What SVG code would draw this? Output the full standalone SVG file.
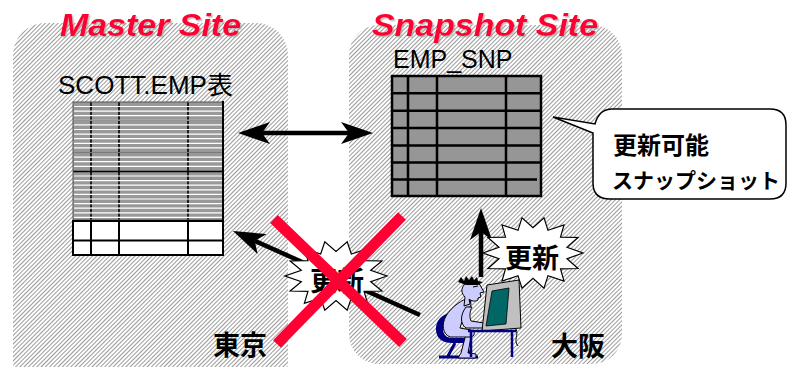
<svg xmlns="http://www.w3.org/2000/svg" width="787" height="367" viewBox="0 0 787 367">
  <style>
    .title { font-family: "Liberation Sans", Arial, sans-serif; font-weight: bold; font-style: italic; font-size: 31px; fill: #FF0033; filter: url(#soft-shadow); }
    .label { font-family: "Liberation Sans", "Noto Sans CJK JP", sans-serif; font-size: 25px; fill: #000; }
    .jp { font-family: "Noto Sans CJK JP", sans-serif; font-weight: bold; fill: #000; }
    .grid { stroke: #000; fill: none; }
    .arrow { stroke: #000; stroke-width: 4.5; fill: none; }
    .cross { stroke: #FF0033; stroke-width: 11; stroke-linecap: butt; }
    .burst { fill: #fff; stroke: #000; stroke-width: 1.2; }
    .navy { fill: #000080; }
    .skin { fill: #CCCCFF; stroke: #000; stroke-width: 1; }
  </style>
  <defs>
    <pattern id="hatch" patternUnits="userSpaceOnUse" width="3" height="3" patternTransform="rotate(45)">
      <rect width="3" height="3" fill="#fff"/>
      <line x1="0.5" y1="0" x2="0.5" y2="3" stroke="#9a9a9a" stroke-width="1"/>
    </pattern>
    <filter id="soft-shadow" x="-5%" y="-20%" width="115%" height="150%">
      <feDropShadow dx="1.5" dy="1.5" stdDeviation="0.6" flood-color="#999" flood-opacity="0.6"/>
    </filter>
    <marker id="head" viewBox="0 -11 32 22" markerWidth="32" markerHeight="22" refX="10" refY="0" orient="auto-start-reverse" markerUnits="userSpaceOnUse">
      <path d="M0,-11 L32,0 L0,11 L8,0 Z" fill="#000"/>
    </marker>
    <polygon id="star" vector-effect="non-scaling-stroke" points="100,0 68,16 90,43 55,44 62,78 30,63 22,98 0,70 -22,98 -30,63 -62,78 -55,44 -90,43 -68,16 -100,0 -68,-16 -90,-43 -55,-44 -62,-78 -30,-63 -22,-98 0,-70 22,-98 30,-63 62,-78 55,-44 90,-43 68,-16"/>
  </defs>

  <rect width="787" height="367" fill="#fff"/>

  <!-- site panels -->
  <g id="master-site">
    <rect x="13" y="23" width="275" height="370" rx="32" fill="url(#hatch)"/>
    <text class="title" x="60" y="35.5" textLength="181" lengthAdjust="spacingAndGlyphs">Master Site</text>
  </g>
  <g id="snapshot-site">
    <rect x="349" y="25" width="273" height="339" rx="30" fill="url(#hatch)"/>
    <text class="title" x="372" y="35.5" textLength="226" lengthAdjust="spacingAndGlyphs">Snapshot Site</text>
  </g>

  <!-- master table SCOTT.EMP -->
  <g id="master-table">
    <text class="label" x="58" y="94" textLength="175" lengthAdjust="spacingAndGlyphs">SCOTT.EMP表</text>
    <rect x="73" y="102" width="150" height="118" fill="#999"/>
    <path class="grid" stroke-width="1.6" d="M91,102 V220 M119,102 V220 M188,102 V220"/>
    <path stroke="#fff" stroke-width="1.2" fill="none" d="M74,106.5 H222 M74,111.1 H222 M74,115.7 H222 M74,120.3 H222 M74,124.9 H222 M74,129.5 H222 M74,134.1 H222 M74,138.7 H222 M74,143.3 H222 M74,147.9 H222 M74,152.5 H222 M74,157.1 H222 M74,161.7 H222 M74,166.3 H222 M74,176 H222 M74,180.6 H222 M74,185.2 H222 M74,189.8 H222 M74,194.4 H222 M74,199 H222 M74,203.6 H222 M74,208.2 H222 M74,212.8 H222 M74,217.4 H222"/>
    <path stroke="#7a7a7a" stroke-width="1" fill="none" d="M74,120.3 H222 M74,152.5 H222"/>
    <line x1="73" y1="171.5" x2="223" y2="171.5" stroke="#000" stroke-width="1.5"/>
    <rect x="73" y="102" width="150" height="118" fill="none" stroke="#555" stroke-width="1"/>
    <line x1="223" y1="101" x2="223" y2="221" stroke="#000" stroke-width="2"/>
    <rect x="73" y="221" width="150" height="34" fill="#fff" stroke="#000" stroke-width="2"/>
    <path class="grid" stroke-width="2" d="M73,240.5 H223 M91,221 V255 M119,221 V255 M188,221 V255"/>
  </g>

  <!-- snapshot table EMP_SNP -->
  <g id="snapshot-table">
    <text class="label" x="393" y="68">EMP_SNP</text>
    <rect x="392" y="76" width="149" height="120" fill="#969696" stroke="#000" stroke-width="2.5"/>
    <path class="grid" stroke-width="2.5" d="M392,93.3 H541 M392,110.7 H541 M392,128 H541 M392,145.5 H541 M392,162.5 H541 M392,179.5 H537 M408,76 V196 M437,76 V196 M506,76 V196"/>
  </g>

  <!-- callout -->
  <g id="callout">
    <path d="M553,117 L595,124 Q599,109 612,109 H770 Q786,109 786,125 V183 Q786,199 770,199 H610 Q593,199 593,183 V133 Z" fill="#fff" stroke="#000" stroke-width="1.5"/>
    <text class="jp" x="613" y="154" font-size="24">更新可能</text>
    <text class="jp" x="612" y="188" font-size="21">スナップショット</text>
  </g>

  <!-- connectors -->
  <g id="connectors">
    <line class="arrow" x1="260" y1="133" x2="351" y2="133" marker-start="url(#head)" marker-end="url(#head)"/>
    <line class="arrow" x1="420" y1="315" x2="253" y2="240" marker-end="url(#head)"/>
    <line class="arrow" x1="481" y1="277" x2="481" y2="230" marker-end="url(#head)"/>
  </g>

  <!-- rejected update from Tokyo side -->
  <g id="burst-left">
    <use href="#star" class="burst" transform="translate(336,276) scale(0.51,0.35)"/>
    <text class="jp" x="337" y="291" font-size="27" text-anchor="middle">更新</text>
  </g>
  <g id="cross">
    <line class="cross" x1="274" y1="219" x2="403" y2="343"/>
    <line class="cross" x1="402" y1="216" x2="277" y2="344"/>
  </g>

  <!-- update at snapshot site -->
  <g id="burst-right">
    <use href="#star" class="burst" transform="translate(533,253) scale(0.5,0.36)"/>
    <text class="jp" x="532" y="268" font-size="27" text-anchor="middle">更新</text>
  </g>

  <!-- user at terminal -->
  <g id="user">
    <path class="navy" d="M451,313 C441,314 435,322 436,331 C437,339 443,343 452,343 L468,343 L468,338 L452,338 C446,338 443,334 443,329 C443,322 447,318 452,317 Z"/>
    <path d="M455,343 L448,356 M465,343 L470,356 M439,357 H478" stroke="#000080" stroke-width="3" fill="none"/>
    <path class="skin" d="M466,334 L471,337 L468,353 L476,354 L476,358 L458,358 L461,353 Z"/>
    <path class="skin" d="M470,297 C462,300 452,306 446,316 C441,325 443,334 450,337 L470,337 C475,337 476,331 471,330 L460,328 C462,320 466,312 471,305 Z"/>
    <path class="skin" d="M466,307 C460,315 460,324 466,328 L483,328 L484,323 L471,321 C469,316 470,311 472,307 Z"/>
    <path class="skin" d="M464,285 C466,280 476,279 480,285 L484,292 L480,293 L481,297 L478,298 L478,300 C475,302 471,301 469,299 L470,304 L464,306 L465,297 C461,293 461,289 464,285 Z"/>
    <path d="M458,282 L461,277 L464,281 L466,276 L469,280 L472,276 L474,280 L477,277 L478,281 L483,282 L478,285 L466,285 Z" fill="#000"/>
    <path d="M473,287 L478,286" stroke="#000" stroke-width="1"/>
    <path d="M487,285 L519,280 L521,328 L482,331 Z" fill="#C0C0C0" stroke="#000" stroke-width="1"/>
    <path d="M492,291 L509,288 L506,324 L486,326 Z" fill="#006666" stroke="#000" stroke-width="0.8"/>
    <path d="M516,329 C519,335 513,340 518,346" stroke="#000" stroke-width="1" fill="none"/>
    <path d="M468,331 H516 M471,331 V357 M512,331 V357" stroke="#000080" stroke-width="2.5" fill="none"/>
  </g>

  <!-- place labels -->
  <g id="place-labels">
    <text class="jp" x="240" y="355" font-size="27" text-anchor="middle">東京</text>
    <text class="jp" x="578" y="356" font-size="27" text-anchor="middle">大阪</text>
  </g>
</svg>
